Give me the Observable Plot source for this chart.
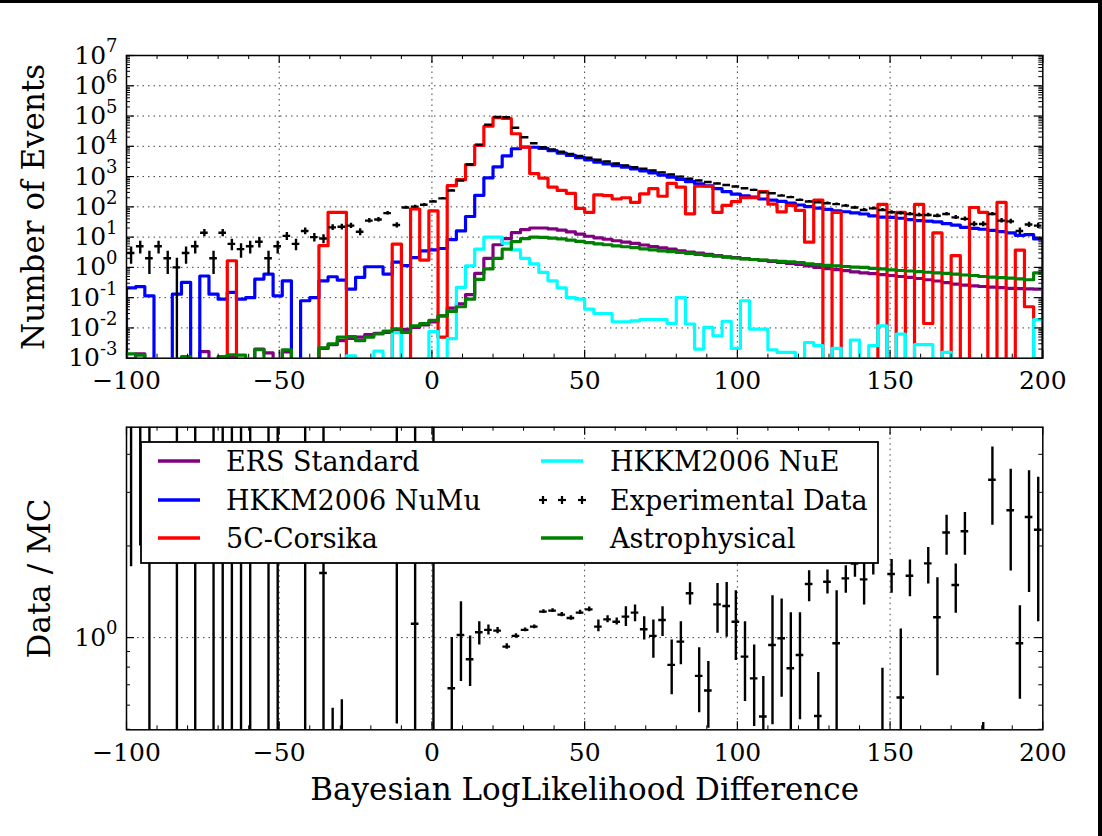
<!DOCTYPE html>
<html><head><meta charset="utf-8">
<script src="https://cdn.jsdelivr.net/npm/d3@7"></script>
<script src="https://cdn.jsdelivr.net/npm/@observablehq/plot@0.6"></script>
<style>
html,body{margin:0;padding:0;background:#fff;}
#wrap{position:relative;width:1102px;height:836px;overflow:hidden;background:#fff;font-family:"DejaVu Serif",serif;}
#wrap > .panel{position:absolute;left:0;}
#top{top:0;} #bottom{top:400px;}
.bar{position:absolute;background:#000;}
#legend{position:absolute;left:140px;top:441px;}
</style></head><body>
<div id="wrap">
  <div class="panel" id="top"></div>
  <div class="panel" id="bottom"></div>
  <div class="bar" style="left:0;top:0;width:1102px;height:3px"></div>
  <div class="bar" style="left:1098px;top:0;width:4px;height:836px"></div>
</div>
<script>
// ---------- data ----------
const binLeft = d3.range(100).map(i => -100 + 3 * i); // 3-unit bins from -100 to 200
const binWidth = 3;

const ers = [0,0.0014,0,0,0,0,0,0,0.00166,0,
  0,0.00112,0,0,0.002,0.0015,0,0.0016,0,0,
  0,0.0021,0.0028,0.0038,0.0045,0.005,0.006,0.0066,0.0071,0.0079,
  0.0089,0.0105,0.0126,0.0158,0.025,0.045,0.063,0.126,0.63,2.0,
  5.6,8.9,14,17.8,20,20,18.6,17,14.8,12.6,
  10.7,9.5,8.5,7.6,6.8,6.2,5.5,4.9,4.4,4.0,
  3.5,3.2,2.95,2.7,2.45,2.24,2.09,1.95,1.82,1.70,
  1.58,1.45,1.35,1.26,1.12,1.0,0.91,0.85,0.78,0.71,
  0.66,0.62,0.575,0.54,0.5,0.47,0.43,0.39,0.355,0.316,
  0.28,0.26,0.245,0.234,0.224,0.214,0.204,0.2,0.195,0.19];

const numu = [0.21,0.23,0.115,0,0,0.13,0.32,0,0.52,0.13,
  0.089,0.15,0.089,0.10,0.41,0.60,0.115,0.36,0,0.079,
  0.10,0.36,0.49,0.38,0.19,0.47,1.05,1.05,0.60,1.5,
  1.15,2.1,3.5,3.8,4.2,8.3,16,48,240,910,
  2100,4800,8300,9500,9300,8500,7200,6000,5000,4200,
  3550,3000,2600,2300,2040,1780,1550,1320,1120,955,
  810,680,575,490,400,316,263,229,209,182,
  166,151,132,115,102,91,83,74,69,63,
  58,50,46,45,42,38,35,34,32,28,
  25,21,19.5,18.2,16.6,15.1,13.8,11.5,12.0,8.7];

const corsika = [0,0,0,0,0,0,0,0,0,0,
  0,1.66,0,0,0,0,0,0,0,0,
  0,5.2,66,66,0,0,0,0,0,5.9,
  0,85,1.74,74,0.005,500,790,2500,10700,46000,
  89000,83000,26000,9300,1260,890,450,350,280,89,
  66,250,235,182,200,141,270,400,224,600,
  450,59,480,480,66,112,148,200,200,316,
  123,68,112,76,6.8,166,0,66,0,0,
  0,0,120,0,66,0,120,0.014,13.8,0,
  2.45,0,95,66,0,141,0,3.7,0.05,0];

const nue = [0,0,0,0,0,0,0,0,0,0,
  0,0,0,0,0,0,0,0,0,0,
  0,0,0,0,0.0012,0,0,0.0017,0,0.007,
  0,0,0,0.0076,0,0.0044,0.22,1.12,4.0,10,
  10,6.3,3.8,2.0,1.3,0.68,0.36,0.21,0.10,0.089,
  0.042,0.030,0.030,0.016,0.016,0.017,0.019,0.019,0.019,0.014,
  0.10,0.0135,0.002,0.0105,0.0055,0.0166,0.0021,0.079,0.0091,0.0091,
  0.0019,0.00155,0.00155,0,0.0033,0.0026,0,0.0021,0,0.004,
  0,0.0026,0.0117,0,0.0063,0,0.0028,0.0028,0,0.00155,
  0,0,0,0,0,0,0,0,0,0.019];

const astro = [0.0014,0.00126,0,0,0,0,0.00112,0,0,0,
  0.00112,0.0013,0.00126,0,0.0019,0,0,0.0019,0,0,
  0,0.0022,0.003,0.005,0.0052,0.0038,0.005,0.0063,0.0079,0.0093,
  0.0071,0.0117,0.014,0.0178,0.025,0.035,0.05,0.089,0.4,0.89,
  2.0,4.0,7.1,8.9,10,9.8,9.3,8.7,7.9,7.2,
  6.6,6.0,5.6,5.1,4.8,4.5,4.1,3.8,3.5,3.3,
  3.1,2.9,2.7,2.5,2.34,2.19,2.04,1.9,1.82,1.74,
  1.66,1.58,1.51,1.45,1.32,1.23,1.17,1.12,1.07,1.02,
  1.0,0.93,0.89,0.83,0.79,0.76,0.72,0.69,0.66,0.63,
  0.6,0.56,0.54,0.5,0.48,0.46,0.44,0.42,0.39,0.66];

const dataCounts = [3,5,2,5,2,1,3,5,14,2,
  14,6,4,5,7,2,5,11,6,16,
  10,9,21,22,24,15,35,38,62,25,
  95,102,117,151,190,347,741,2500,11200,52000,
  93000,91000,41000,20000,12600,9300,7900,6600,5600,4800,
  4200,3600,3160,2700,2340,2040,1820,1580,1380,1170,
  1000,850,740,660,590,525,470,410,363,302,
  282,234,209,170,151,141,132,123,110,95,
  79,89,79,66,62,58,54,54,51,58,
  45,40,27,27,58,35,33,16,26,24];

// Data / MC ratio; 0.01 and 100 mark error bars running off the panel
const ratioVal = [null,null,null,null,null,null,null,null,null,null,
  null,null,null,null,null,null,null,null,null,null,
  null,1.63,null,null,null,null,null,null,null,null,
  null,1.11,null,null,null,0.682,1.02,0.849,1.041,1.06,
  1.054,0.934,1.013,1.06,1.087,1.217,1.226,1.19,1.16,1.208,
  1.238,1.087,1.148,1.128,1.172,1.208,1.065,1.013,1.143,0.814,
  0.97,1.398,0.749,0.67,1.286,1.27,1.128,0.866,0.735,0.551,
  0.946,0.995,0.793,0.877,1.5,0.553,1.526,0.958,1.565,1.75,
  1.553,1.8,null,1.617,0.636,1.596,null,1.753,1.166,2.214,
  1.488,2.236,null,null,3.3,null,2.62,0.958,2.49,2.26];
const ratioLo = [1.71,2.0,0.01,null,null,0.01,null,0.01,null,0.01,
  0.01,0.01,0.01,0.01,null,0.01,0.01,null,null,0.01,
  null,0.01,0.01,0.01,null,null,null,null,null,0.52,
  null,0.01,null,0.01,null,0.01,0.717,0.691,0.946,1.02,
  1.03,0.915,0.995,1.045,1.07,1.2,1.21,1.17,1.14,1.19,
  1.215,1.046,1.12,1.10,1.087,1.128,0.983,0.855,1.008,0.649,
  0.814,1.28,0.567,0.504,1.033,1.003,0.841,0.617,0.511,0.01,
  0.517,0.637,0.01,0.537,1.312,0.01,1.39,0.01,1.398,1.58,
  1.28,1.605,0.01,1.398,0.01,1.363,null,1.5,0.749,1.866,
  1.202,1.866,null,0.01,2.34,null,1.654,0.628,1.407,1.128];
const ratioHi = [100,100,100,null,null,100,null,100,null,100,
  100,100,100,100,null,100,100,null,null,100,
  null,100,0.586,0.625,null,null,null,null,null,100,
  null,100,null,100,null,1.0,1.312,1.013,1.128,1.10,
  1.08,0.955,1.03,1.075,1.10,1.235,1.245,1.21,1.18,1.23,
  1.26,1.143,1.18,1.16,1.264,1.28,1.172,1.143,1.264,0.983,
  1.128,1.515,0.927,0.834,1.507,1.518,1.426,1.128,0.946,0.745,
  1.373,1.339,1.208,1.208,1.658,0.768,1.666,1.426,1.722,1.95,
  1.79,2.0,0.793,1.806,1.067,1.797,null,1.977,1.573,2.525,
  1.744,2.577,null,0.526,4.23,null,3.57,1.273,3.53,3.36];

const xTicks = [-100,-50,0,50,100,150,200];
const xGrid = [-50,0,50,100,150];
const xMinor = [-90,-80,-70,-60,-40,-30,-20,-10,10,20,30,40,60,70,80,90,110,120,130,140,160,170,180,190];
const yTicksTop = [1e-3,1e-2,1e-1,1,10,100,1e3,1e4,1e5,1e6,1e7];
const yGridTop = [1e-2,1e-1,1,10,100,1e3,1e4,1e5,1e6];
const yMinorTop = yTicksTop.slice(0,-1).flatMap(d => [2,3,4,5,6,7,8,9].map(k => d * k));
const yTicksRatio = [1];
const yMinorRatio = [0.5,0.6,0.7,0.8,0.9,2,3,4];

const seriesNames = ["ERS Standard","HKKM2006 NuMu","5C-Corsika","HKKM2006 NuE","Experimental Data","Astrophysical"];
const seriesColors = {"ERS Standard":"#800080","HKKM2006 NuMu":"#0000ff","5C-Corsika":"#ff0000","HKKM2006 NuE":"#00ffff","Experimental Data":"#000000","Astrophysical":"#008000"};

// ---------- helpers ----------
const FONT = "DejaVu Serif";
const W = 1102, ML = 126, MR = 59.7;
const FW = W - ML - MR;
const FLOOR = 1e-9;
const LW_LINE = 3.2;
const LABEL_SIZE = 31;
const supExp = v => "10^" + Math.round(Math.log10(v));
const fmtX = d => d < 0 ? "\u2212" + (-d) : String(d);

function stepRows(vals) {
  const rows = [{x: binLeft[0], y: FLOOR}];
  vals.forEach((v, i) => rows.push({x: binLeft[i], y: v > 0 ? v : FLOOR}));
  const last = vals[vals.length - 1];
  rows.push({x: binLeft[binLeft.length - 1] + binWidth, y: last > 0 ? last : FLOOR});
  rows.push({x: binLeft[binLeft.length - 1] + binWidth, y: FLOOR});
  return rows;
}
const stepLine = (vals, color) => Plot.line(stepRows(vals), {x: "x", y: "y", curve: "step-after", stroke: color, strokeWidth: LW_LINE, clip: true});

const dataRows = dataCounts.map((n, i) => ({
  c: binLeft[i] + binWidth / 2, v: n,
  lo: n - Math.sqrt(n) > 0 ? n - Math.sqrt(n) : FLOOR, hi: n + Math.sqrt(n),
  x1: binLeft[i] + 0.25, x2: binLeft[i] + binWidth - 0.25
}));
const ratioRows = ratioVal.map((v, i) => ({c: binLeft[i] + binWidth / 2, v, lo: ratioLo[i], hi: ratioHi[i], x1: binLeft[i] + 0.25, x2: binLeft[i] + binWidth - 0.25}));

function frameTicks(FH) {
  return [
    Plot.tickX(xTicks, {x: d => d, insetTop: FH - 8, stroke: "#000", strokeWidth: 1.2}),
    Plot.tickX(xTicks, {x: d => d, insetBottom: FH - 8, stroke: "#000", strokeWidth: 1.2}),
    Plot.tickX(xMinor, {x: d => d, insetTop: FH - 4, stroke: "#000", strokeWidth: 1}),
    Plot.tickX(xMinor, {x: d => d, insetBottom: FH - 4, stroke: "#000", strokeWidth: 1})
  ];
}
function yTicksMarks(major, minor) {
  return [
    Plot.tickY(major, {y: d => d, insetRight: FW - 8, stroke: "#000", strokeWidth: 1.2}),
    Plot.tickY(major, {y: d => d, insetLeft: FW - 8, stroke: "#000", strokeWidth: 1.2}),
    Plot.tickY(minor, {y: d => d, insetRight: FW - 4, stroke: "#000", strokeWidth: 1}),
    Plot.tickY(minor, {y: d => d, insetLeft: FW - 4, stroke: "#000", strokeWidth: 1})
  ];
}
const gridStyle = {stroke: "#000", strokeDasharray: "1.5,4", strokeWidth: 1, strokeOpacity: 0.75};

// turn "10^k" tick labels into a base with a real superscript
function superscriptTicks(svg) {
  d3.select(svg).selectAll("text").each(function() {
    const t = this.textContent;
    const m = /^10\^(-?\d+)$/.exec(t);
    if (!m) return;
    const el = d3.select(this);
    el.text(null);
    el.append("tspan").text("10");
    el.append("tspan").attr("dy", "-0.62em").style("font-size", "72%").text(m[1]);
  });
}

// ---------- top panel ----------
const topH = 400, topMT = 55, topMB = 42.3;
const topFH = topH - topMT - topMB;
const topPlot = Plot.plot({
  width: W, height: topH, marginTop: topMT, marginBottom: topMB, marginLeft: ML, marginRight: MR,
  style: {fontFamily: FONT, fontSize: "25px", color: "#000", background: "transparent", overflow: "visible"},
  x: {domain: [-100, 200]},
  y: {type: "log", domain: [1e-3, 1e7]},
  marks: [
    Plot.ruleX(xGrid, {x: d => d, ...gridStyle}),
    Plot.ruleY(yGridTop, {y: d => d, ...gridStyle}),
    stepLine(ers, seriesColors["ERS Standard"]),
    stepLine(numu, seriesColors["HKKM2006 NuMu"]),
    stepLine(corsika, seriesColors["5C-Corsika"]),
    stepLine(nue, seriesColors["HKKM2006 NuE"]),
    Plot.ruleX(dataRows, {x: "c", y1: "lo", y2: "hi", stroke: "#000", strokeWidth: 2.4, clip: true}),
    Plot.ruleY(dataRows, {y: "v", x1: "x1", x2: "x2", stroke: "#000", strokeWidth: 2.4, clip: true}),
    stepLine(astro, seriesColors["Astrophysical"]),
    Plot.frame({stroke: "#000", strokeWidth: 1.5}),
    ...frameTicks(topFH),
    ...yTicksMarks(yTicksTop, yMinorTop),
    Plot.axisX({ticks: xTicks, tickFormat: fmtX, tickSize: 0, tickPadding: 13, fontSize: 25, label: null}),
    Plot.axisY({ticks: yTicksTop, tickFormat: supExp, tickSize: 0, tickPadding: 9, fontSize: 25, label: null}),
    Plot.text(["Number of Events"], {text: d => d, frameAnchor: "left", textAnchor: "middle", lineAnchor: "middle", dx: -92, rotate: -90, fontSize: LABEL_SIZE})
  ]
});
superscriptTicks(topPlot);
document.getElementById("top").appendChild(topPlot);

// ---------- bottom panel ----------
const botH = 436, botMT = 26.7, botMB = 106.7;
const botFH = botH - botMT - botMB;
const rows = ratioRows.filter(r => r.lo != null && r.hi != null);
const pts = ratioRows.filter(r => r.v != null);
const botPlot = Plot.plot({
  width: W, height: botH, marginTop: botMT, marginBottom: botMB, marginLeft: ML, marginRight: MR,
  style: {fontFamily: FONT, fontSize: "25px", color: "#000", background: "transparent", overflow: "visible"},
  x: {domain: [-100, 200]},
  y: {type: "log", domain: [0.498, 4.91]},
  marks: [
    Plot.ruleX(xGrid, {x: d => d, ...gridStyle}),
    Plot.ruleY(yTicksRatio, {y: d => d, ...gridStyle}),
    Plot.ruleX(rows, {x: "c", y1: "lo", y2: "hi", stroke: "#000", strokeWidth: 2.4, clip: true}),
    Plot.ruleY(pts, {y: "v", x1: "x1", x2: "x2", stroke: "#000", strokeWidth: 2.4, clip: true}),
    Plot.frame({stroke: "#000", strokeWidth: 1.5}),
    ...frameTicks(botFH),
    ...yTicksMarks(yTicksRatio, yMinorRatio),
    Plot.axisX({ticks: xTicks, tickFormat: fmtX, tickSize: 0, tickPadding: 13, fontSize: 25, label: null}),
    Plot.axisY({ticks: yTicksRatio, tickFormat: supExp, tickSize: 0, tickPadding: 9, fontSize: 25, label: null}),
    Plot.text(["Data / MC"], {text: d => d, frameAnchor: "left", textAnchor: "middle", lineAnchor: "middle", dx: -86, rotate: -90, fontSize: LABEL_SIZE}),
    Plot.text(["Bayesian LogLikelihood Difference"], {text: d => d, frameAnchor: "bottom", lineAnchor: "middle", dy: 60, fontSize: LABEL_SIZE})
  ]
});
superscriptTicks(botPlot);
document.getElementById("bottom").appendChild(botPlot);

// ---------- legend ----------
const LW = 739, LH = 123;
const leg = d3.select("#wrap").append("svg").attr("id", "legend")
  .attr("width", LW + 4).attr("height", LH + 4)
  .style("font-family", FONT).style("font-size", "27px");
leg.append("rect").attr("x", 1).attr("y", 1).attr("width", LW - 2).attr("height", LH - 2)
  .attr("fill", "#fff").attr("stroke", "#000").attr("stroke-width", 1.8);
const rowY = [20, 59, 97];
seriesNames.forEach((name, i) => {
  const col = Math.floor(i / 3), r = i % 3;
  const hx = col === 0 ? 18 : 401, tx = col === 0 ? 86 : 470, y = rowY[r];
  if (name === "Experimental Data") {
    [403, 422, 442].forEach(px => {
      leg.append("line").attr("x1", px - 4).attr("x2", px + 4).attr("y1", y).attr("y2", y).attr("stroke", "#000").attr("stroke-width", 2.2);
      leg.append("line").attr("x1", px).attr("x2", px).attr("y1", y - 4).attr("y2", y + 4).attr("stroke", "#000").attr("stroke-width", 2.2);
    });
  } else {
    leg.append("line").attr("x1", hx).attr("x2", hx + 42).attr("y1", y).attr("y2", y)
      .attr("stroke", seriesColors[name]).attr("stroke-width", 3.4);
  }
  leg.append("text").attr("x", tx).attr("y", y + 9.5).attr("fill", "#000").text(name);
});
</script></body></html>
